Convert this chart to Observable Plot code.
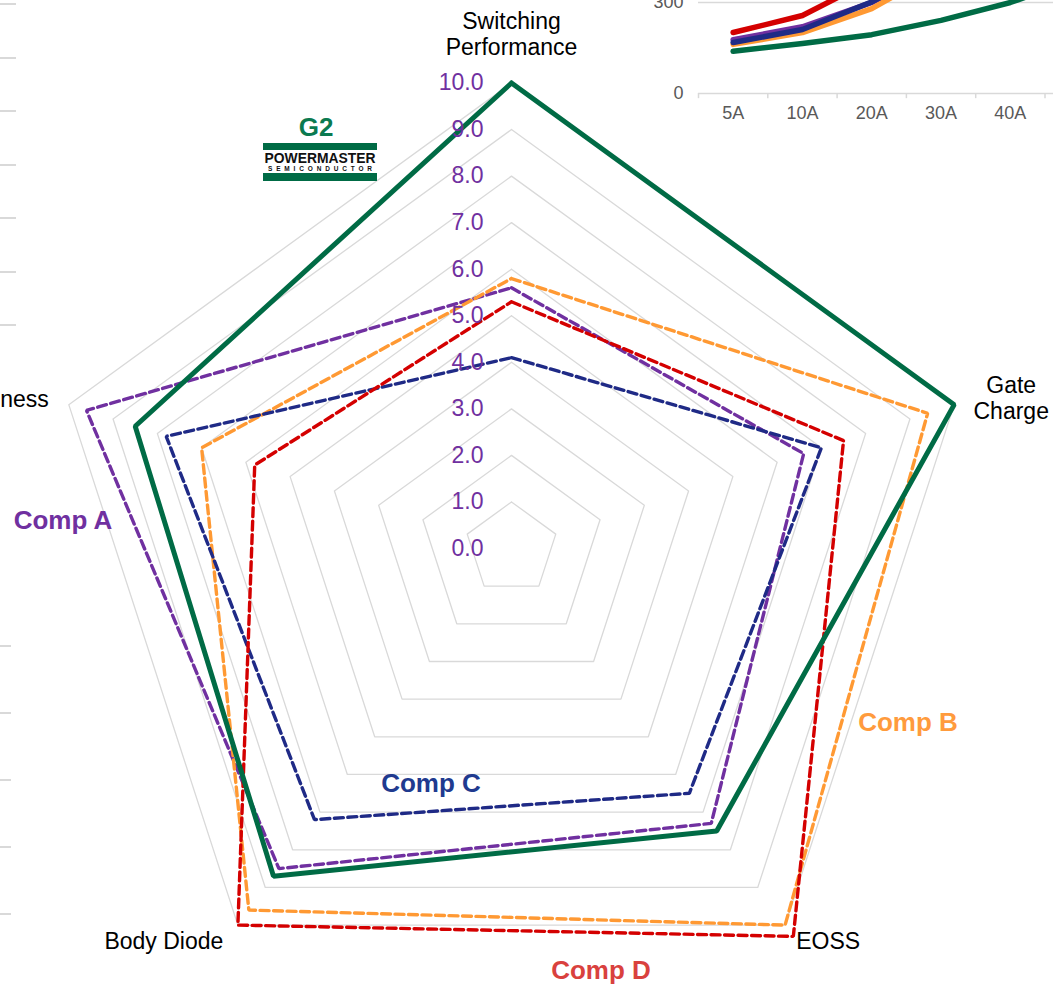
<!DOCTYPE html>
<html><head><meta charset="utf-8">
<script src="https://cdn.jsdelivr.net/npm/d3@7"></script>
<script src="https://cdn.jsdelivr.net/npm/@observablehq/plot@0.6"></script>
<style>
html,body{margin:0;padding:0;background:#fff;overflow:hidden;}
#wrap{position:relative;width:1053px;height:987px;overflow:hidden;font-family:"Liberation Sans",Arial,sans-serif;}
#radar{position:absolute;left:0;top:0;}
#inset{position:absolute;left:640px;top:0;width:413px;height:125px;overflow:hidden;}
.lbl{position:absolute;font-weight:bold;font-size:26px;white-space:nowrap;transform:translate(-50%,-50%);line-height:1;}
.tk{position:absolute;left:0;height:1.5px;background:#d9d9d9;}
#logo{position:absolute;left:243px;top:140px;overflow:visible;}
</style></head><body>
<div id="wrap">
  <div id="radar"></div>
  <div id="inset"></div>
  <div id="ticks"></div>
  <svg id="logo" width="156" height="44">
    <rect x="20" y="3" width="114" height="7" fill="#006b45"/>
    <text x="77" y="23" text-anchor="middle" font-family="Liberation Sans, Arial, sans-serif" font-weight="900" font-size="14" textLength="111" lengthAdjust="spacingAndGlyphs" fill="#111">POWERMASTER</text>
    <text x="77" y="31" text-anchor="middle" font-family="Liberation Sans, Arial, sans-serif" font-weight="bold" font-size="6.5" textLength="104" lengthAdjust="spacing" fill="#111">SEMICONDUCTOR</text>
    <rect x="20" y="33" width="114" height="8" fill="#006b45"/>
  </svg>
  <div class="lbl" style="left:316px;top:127px;color:#0b7a50">G2</div>
  <div class="lbl" style="left:63px;top:520px;color:#7030a0">Comp A</div>
  <div class="lbl" style="left:908px;top:722px;color:#ff9b3d">Comp B</div>
  <div class="lbl" style="left:431px;top:783px;color:#203a8f">Comp C</div>
  <div class="lbl" style="left:601px;top:970px;color:#d9413e">Comp D</div>
</div>
<script>
// ---- Radar data ----
const axes = ["Switching\nPerformance", "Gate\nCharge", "EOSS", "Body Diode", "Ruggedness"];
const seriesNames = ["Comp A", "Comp B", "Comp C", "Comp D", "G2"];
const compA = [5.6, 6.6, 7.3, 8.5, 9.6];
const compB = [5.8, 9.4, 10.0, 9.6, 7.0];
const compC = [4.1, 7.0, 6.5, 7.2, 7.8];
const compD = [5.3, 7.5, 10.3, 10.0, 5.8];
const g2    = [10, 10, 7.5, 8.7, 8.5];
const ringValues = [0, 1, 2, 3, 4, 5, 6, 7, 8, 9, 10];
const tickLabels = ["0.0","1.0","2.0","3.0","4.0","5.0","6.0","7.0","8.0","9.0","10.0"];

// ---- Inset (cropped line chart) data ----
const insetCategories = ["5A", "10A", "20A", "30A", "40A", "50A"];
const insetNames = ["Comp A", "Comp B", "Comp C", "Comp D", "G2"];
const insetA  = [177, 220, 300, 420];
const insetB  = [162, 201, 280, 408];
const insetC  = [168, 211, 302, 420];
const insetD  = [201, 257, 374];
const insetG2 = [139, 165, 194, 241, 300, 380];
const insetTicks = [0, 300];
const insetTickLabels = ["0", "300"];

const colors = {"G2": "#006b45", "Comp A": "#7030a0", "Comp B": "#ff9933", "Comp C": "#1f2a86", "Comp D": "#d40000"};
const font = "Liberation Sans, Arial, sans-serif";

// radar geometry
const R = 465.5, cx = 511, cy = 548;
const ang = i => i * 2 * Math.PI / 5;
const pt = (v, i) => ({x: v * Math.sin(ang(i)), y: v * Math.cos(ang(i))});
const closed = (vals, key) => [...vals, vals[0]].map((v, k) => ({...pt(v, k % 5), key}));

const ringData = ringValues.filter(r => r > 0).flatMap(r => closed([r, r, r, r, r], r));
const seriesVals = [compA, compB, compC, compD, g2];
const seriesData = seriesNames.flatMap((n, s) => closed(seriesVals[s], n));

const labelMark = (i, opts) => Plot.text([axes[i]], {
  x: () => pt(10, i).x, y: () => pt(10, i).y, text: d => d,
  fontSize: 23, fill: "#000", lineHeight: 1.13, ...opts
});

const radar = Plot.plot({
  width: 1053, height: 987,
  style: {fontFamily: font, background: "transparent"},
  x: {domain: [-10, 10], range: [cx - R, cx + R], axis: null},
  y: {domain: [-10, 10], range: [cy + R, cy - R], axis: null},
  marks: [
    Plot.line(ringData, {x: "x", y: "y", z: "key", stroke: "#d9d9d9", strokeWidth: 1.3}),
    ...seriesNames.map(n => Plot.line(seriesData.filter(d => d.key === n), {
      x: "x", y: "y", stroke: colors[n],
      strokeWidth: n === "G2" ? 5 : 3.4,
      strokeDasharray: n === "G2" ? null : "9,4.5",
      strokeLinejoin: "miter"
    })),
    Plot.text(ringValues, {x: 0, y: d => d, text: (d, i) => tickLabels[i], textAnchor: "end", dx: -28, fill: "#7030a0", fontSize: 23}),
    labelMark(0, {dy: -49}),
    labelMark(1, {dx: 57, dy: -7}),
    labelMark(2, {dx: 43, dy: 16}),
    labelMark(3, {dx: -74, dy: 16}),
    labelMark(4, {textAnchor: "end", dx: -20, dy: -6})
  ]
});
document.getElementById("radar").appendChild(radar);

// inset
const insetVals = [insetA, insetB, insetC, insetD, insetG2];
const insetData = insetNames.flatMap((n, s) => insetVals[s].map((v, i) => ({i, v, key: n})));
const step = 69.3, x0 = 58;
const visibleCats = insetCategories.slice(0, 5);
const inset = Plot.plot({
  width: 413, height: 125,
  marginLeft: x0, marginRight: 0, marginTop: 0, marginBottom: 32,
  style: {fontFamily: font, background: "transparent"},
  x: {domain: [-0.5, 5.5], range: [x0, x0 + 6 * step], axis: null},
  y: {domain: [0, 300], range: [93, 2], axis: null},
  marks: [
    Plot.ruleY(insetTicks, {stroke: "#d9d9d9", strokeWidth: 1.5}),
    Plot.ruleX(d3.range(-0.5, 6, 1), {y1: 0, y2: -17, stroke: "#d9d9d9", strokeWidth: 1.5}),
    ...insetNames.map(n => Plot.line(insetData.filter(d => d.key === n), {
      x: "i", y: "v", stroke: colors[n], strokeWidth: 5.5, strokeLinecap: "round", strokeLinejoin: "round"
    })),
    Plot.text(visibleCats, {x: (d, i) => i, y: 0, text: d => d, dy: 20, fill: "#595959", fontSize: 18}),
    Plot.text(insetTicks, {x: -0.5, y: d => d, text: (d, i) => insetTickLabels[i], textAnchor: "end", dx: -15, fill: "#595959", fontSize: 18})
  ]
});
document.getElementById("inset").appendChild(inset);

// partial neighbouring axis ticks at the left edge
const leftTickYs = [3, 57, 110, 164, 217, 271, 324];
const leftTickYs2 = [645, 712, 779, 846, 913];
const tdiv = document.getElementById("ticks");
leftTickYs.forEach(y => { const d = document.createElement("div"); d.className = "tk"; d.style.top = y + "px"; d.style.width = "16px"; tdiv.appendChild(d); });
leftTickYs2.forEach(y => { const d = document.createElement("div"); d.className = "tk"; d.style.top = y + "px"; d.style.width = "11px"; tdiv.appendChild(d); });
</script>
</body></html>
